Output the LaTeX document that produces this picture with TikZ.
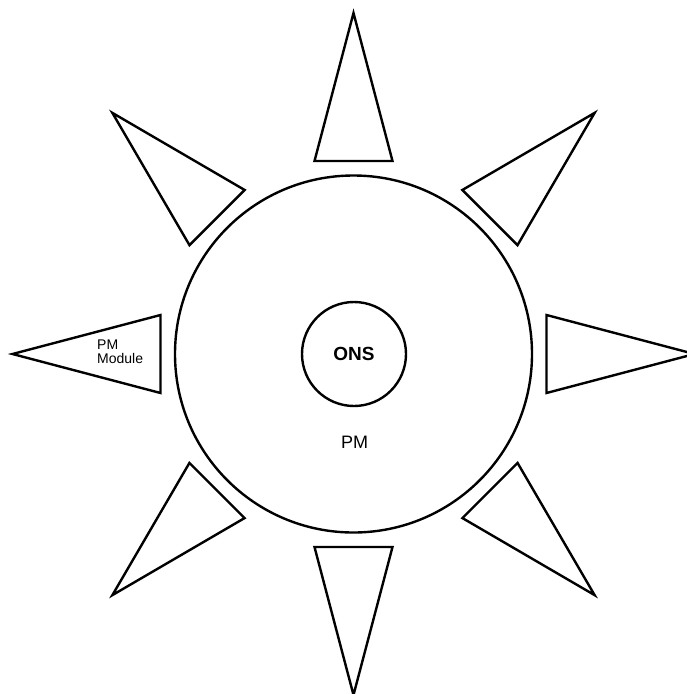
\documentclass[tikz,border=0pt]{standalone}
\usepackage{fontspec}
\setmainfont{Liberation Sans}
\usetikzlibrary{calc}
\begin{document}
\begin{tikzpicture}[x=1pt,y=-1pt,
  outline/.style={draw=black,line width=2.4pt,line join=miter},
  ray/.style={outline}]
\useasboundingbox (0,0) rectangle (687,694);
\coordinate (c) at (353.5,354);
% outer circle
\node[circle,outline,minimum size=357pt,inner sep=0pt] (pm) at (c) {};
% inner circle
\node[circle,outline,minimum size=104pt,inner sep=0pt,
  font=\fontsize{19}{22}\selectfont\bfseries] (ons) at (354,354) {ONS};
\node[font=\fontsize{18}{20}\selectfont] (pmlabel) at (354.5,442) {PM};
% rays
\foreach \a in {0,45,...,315}{
  \draw[ray] ($(c)+(\a:193)+(\a+90:39)$) -- ($(c)+(\a:341)$) -- ($(c)+(\a:193)+(\a-90:39)$) -- cycle;
}
\node[font=\fontsize{14}{14}\selectfont,align=left,anchor=west,inner sep=0pt] (mod) at (97,352) {PM\\Module};
\end{tikzpicture}
\end{document}
